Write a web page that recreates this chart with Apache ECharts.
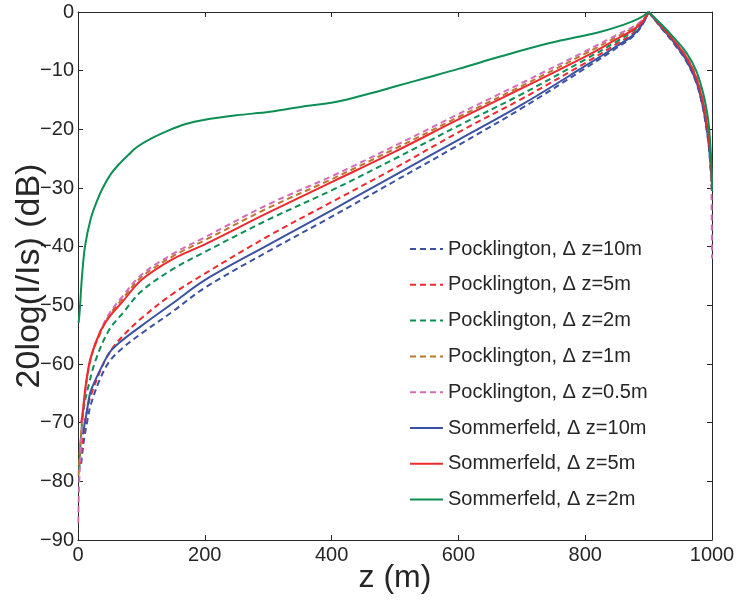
<!DOCTYPE html>
<html>
<head>
<meta charset="utf-8">
<script src="https://cdn.jsdelivr.net/npm/echarts@6/dist/echarts.min.js"></script>
<style>html,body{margin:0;padding:0;background:#fff;}#c{width:739px;height:603px;}</style>
</head>
<body>
<div id="c"></div>
<script>
// ---- data ----
const seriesNames = [
  'Pocklington, \u0394 z=10m', 'Pocklington, \u0394 z=5m', 'Pocklington, \u0394 z=2m',
  'Pocklington, \u0394 z=1m', 'Pocklington, \u0394 z=0.5m',
  'Sommerfeld, \u0394 z=10m', 'Sommerfeld, \u0394 z=5m', 'Sommerfeld, \u0394 z=2m'
];
const xTicks = [0, 200, 400, 600, 800, 1000];
const yTicks = [0, -10, -20, -30, -40, -50, -60, -70, -80, -90];

const zP10 = [5, 7, 10, 15, 20, 35, 50, 70, 100, 150, 200, 300, 400, 500, 600, 700, 800, 850, 876, 890, 900, 920, 940, 960, 975, 985, 990, 994, 997, 1000];
const yP10 = [-77, -75, -72.5, -69.5, -67, -62.5, -59.5, -57.3, -54.8, -51.0, -47.0, -40.8, -34.9, -28.8, -22.7, -16.4, -9.6, -6.1, -4.1, -2.2, 0, -2.7, -5.4, -8.5, -12, -16, -19, -22, -25.5, -30];

const zP5 = [4, 6, 10, 15, 20, 35, 50, 70, 100, 150, 200, 300, 400, 500, 600, 700, 800, 850, 876, 890, 900, 920, 940, 960, 975, 985, 990, 994, 997, 1000];
const yP5 = [-77, -74, -70.5, -67.5, -65.5, -61.2, -58.0, -55.3, -52.2, -48.0, -44.6, -38.2, -32.4, -26.6, -20.5, -14.8, -8.7, -5.4, -3.6, -2.0, 0, -2.6, -5.2, -8.2, -11.6, -15.6, -18.5, -21.5, -25, -30];

const zP2 = [2, 4, 7, 10, 15, 28, 49, 70, 100, 150, 200, 300, 400, 500, 600, 700, 800, 850, 876, 890, 900, 920, 940, 960, 975, 985, 990, 994, 997, 1000];
const yP2 = [-78, -73.5, -69.5, -67, -64.4, -59.3, -54.2, -51.4, -47.6, -43.8, -40.9, -35.4, -30.4, -25.0, -19.4, -14.0, -8.1, -5.0, -3.2, -1.8, 0, -2.5, -5.0, -8.0, -11.3, -15.2, -18, -21, -24.5, -30];

const zP1 = [1, 2, 5, 10, 20, 35, 50, 70, 100, 150, 200, 300, 400, 500, 600, 700, 800, 850, 876, 890, 900, 920, 940, 960, 975, 985, 990, 994, 997, 1000];
const yP1 = [-79, -76.5, -71.5, -65.8, -59.2, -54.8, -51.6, -48.9, -45.2, -41.6, -38.9, -33.4, -28.5, -23.3, -17.9, -12.6, -7.1, -4.2, -2.7, -1.5, 0, -2.4, -4.8, -7.7, -11, -14.8, -17.6, -20.6, -24, -30];

const zP05 = [0.5, 1, 2, 5, 10, 20, 35, 50, 70, 100, 150, 200, 300, 400, 500, 600, 700, 800, 850, 876, 890, 900, 920, 940, 960, 975, 985, 990, 994, 997, 999, 1000];
const yP05 = [-87, -83.5, -79.8, -73, -66, -59.2, -54.5, -51.3, -48.5, -44.8, -41.2, -38.4, -32.8, -28.0, -22.8, -17.4, -12.1, -6.7, -3.9, -2.5, -1.4, 0, -2.4, -4.8, -7.7, -11, -14.8, -17.6, -20.6, -24, -30, -42];

const zS10 = [8, 10, 12.6, 19, 25, 40, 50, 66, 100, 150, 200, 300, 400, 500, 600, 700, 800, 850, 876, 890, 900, 920, 940, 960, 975, 985, 990, 994, 997, 1000];
const yS10 = [-72, -70.5, -69, -65, -63.3, -59.9, -58.0, -56.3, -53.5, -49.6, -45.7, -39.7, -33.8, -27.8, -21.8, -15.8, -9.2, -5.8, -3.9, -2.1, 0, -2.6, -5.2, -8.3, -11.8, -15.8, -18.7, -21.8, -25, -29];

const zS5 = [5, 7.4, 12.6, 20, 35, 50, 70, 100, 150, 200, 300, 400, 500, 600, 700, 800, 850, 876, 890, 900, 920, 940, 960, 975, 985, 990, 994, 997, 1000];
const yS5 = [-70, -68.4, -63.3, -58.9, -54.5, -51.9, -49.4, -45.7, -42.1, -39.6, -34.2, -29.0, -23.8, -18.3, -13.0, -7.6, -4.6, -3.0, -1.7, 0, -2.4, -4.9, -7.8, -11.2, -15.0, -17.8, -20.8, -24, -29];

const zS2 = [1, 3, 6, 11, 20, 30, 40, 52, 66, 80, 92, 115, 145, 170, 198, 250, 303, 355, 408, 460, 500, 550, 600, 666, 744, 823, 860, 885, 900, 920, 940, 960, 975, 985, 990, 994, 997, 999, 1000];
const yS2 = [-53, -50.5, -45.5, -40, -35.3, -32.2, -29.8, -27.6, -25.8, -24.3, -23.1, -21.6, -20.1, -19.1, -18.4, -17.6, -17.0, -16.1, -15.3, -13.9, -12.7, -11.2, -9.7, -7.6, -5.3, -3.4, -2.2, -1.1, 0, -2.1, -4.4, -7.0, -10.0, -13.4, -15.8, -18.4, -22, -26, -30.5];

const zData = [zP10, zP5, zP2, zP1, zP05, zS10, zS5, zS2];
const yData = [yP10, yP5, yP2, yP1, yP05, yS10, yS5, yS2];
const colors = ['#3b52a4', '#ee2a2e', '#0b8f55', '#b8782e', '#d46cb6', '#3b52a4', '#ee2a2e', '#0b8f55'];
const dashed = [true, true, true, true, true, false, false, false];
const FEED_Z = 900;

// ---- chart ----
const FONT = '"Liberation Sans", Arial, Helvetica, sans-serif';
const TXT = '#262626';
const fmt = v => (v < 0 ? '\u2212' + Math.abs(v) : String(v));

const chart = echarts.init(document.getElementById('c'), null, { renderer: 'canvas' });

const series = [];
seriesNames.forEach((name, i) => {
  const pts = zData[i].map((z, k) => [z, yData[i][k]]);
  const parts = [pts.filter(p => p[0] <= FEED_Z), pts.filter(p => p[0] >= FEED_Z)];
  parts.forEach((part, j) => {
    series.push({
      name: name,
      type: 'line',
      xAxisIndex: 0,
      yAxisIndex: 0,
      data: part,
      showSymbol: false,
      symbol: 'none',
      smooth: 0.35,
      lineStyle: { color: colors[i], width: 2, type: dashed[i] ? [6, 4] : 'solid' },
      itemStyle: { color: colors[i] },
      emphasis: { disabled: true },
      animation: false,
      z: dashed[i] ? 2 : 3
    });
  });
});

const axisCommon = {
  axisLine: { show: true, onZero: false, lineStyle: { color: TXT, width: 1 } },
  axisTick: { show: true, inside: true, length: 5, lineStyle: { color: TXT } },
  splitLine: { show: false }
};

chart.setOption({
  backgroundColor: '#ffffff',
  animation: false,
  color: colors,
  grid: { left: 78, right: 27, top: 12, bottom: 63, show: false, containLabel: false, outerBoundsMode: 'none' },
  legend: {
    data: seriesNames.map(n => ({ name: n })),
    orient: 'vertical',
    left: 409,
    top: 239,
    padding: 0,
    itemWidth: 33,
    itemHeight: 14,
    itemGap: 15.8,
    itemStyle: { opacity: 0, borderWidth: 0 },
    textStyle: { fontFamily: FONT, fontSize: 20, color: TXT, lineHeight: 20 },
    selectedMode: false
  },
  xAxis: [
    Object.assign({}, axisCommon, {
      type: 'value', position: 'bottom', min: 0, max: 1000, interval: 200,
      name: 'z (m)', nameLocation: 'middle', nameGap: 22, nameMoveOverlap: false,
      nameTextStyle: { fontFamily: FONT, fontSize: 32, color: TXT },
      axisLabel: { fontFamily: FONT, fontSize: 20, color: TXT, margin: 5, formatter: fmt }
    }),
    Object.assign({}, axisCommon, {
      type: 'value', position: 'top', min: 0, max: 1000, interval: 200,
      axisLabel: { show: false }
    })
  ],
  yAxis: [
    Object.assign({}, axisCommon, {
      type: 'value', position: 'left', min: -90, max: 0, interval: 10,
      name: '20log(I/Is) (dB)', nameLocation: 'middle', nameGap: 31, nameMoveOverlap: false,
      nameTextStyle: { fontFamily: FONT, fontSize: 34, color: TXT },
      axisLabel: { fontFamily: FONT, fontSize: 20, color: TXT, margin: 4, formatter: fmt }
    }),
    Object.assign({}, axisCommon, {
      type: 'value', position: 'right', min: -90, max: 0, interval: 10,
      axisLabel: { show: false }
    })
  ],
  series: series
});
</script>
</body>
</html>
